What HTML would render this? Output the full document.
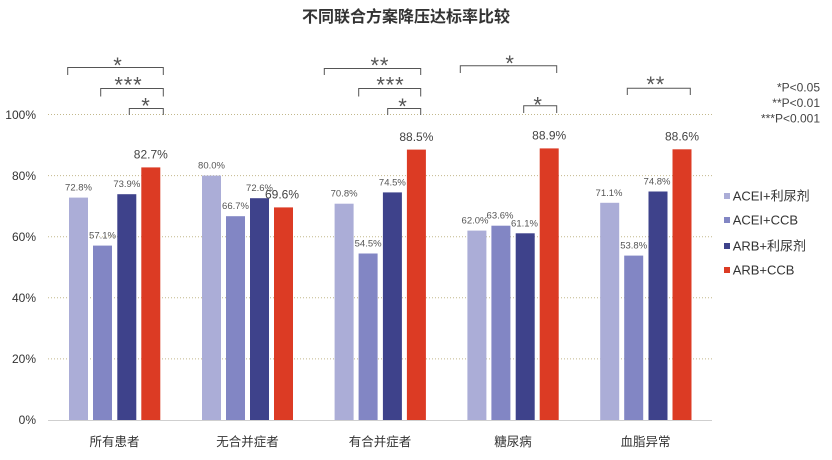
<!DOCTYPE html>
<html><head><meta charset="utf-8"><style>
html,body{margin:0;padding:0;background:#fff;}
svg{display:block;font-family:"Liberation Sans","Noto Sans CJK SC",sans-serif;}
</style></head><body>
<svg width="832" height="460" viewBox="0 0 832 460" xmlns="http://www.w3.org/2000/svg">
<rect width="832" height="460" fill="#fff"/>
<text x="406" y="22" text-anchor="middle" font-size="16" font-weight="bold" fill="#333" font-family="'Noto Sans CJK SC',sans-serif">不同联合方案降压达标率比较</text>
<g stroke="#c2b88c" stroke-width="1" stroke-dasharray="1,2">
<line x1="48" y1="114.5" x2="712" y2="114.5"/>
<line x1="48" y1="175.6" x2="712" y2="175.6"/>
<line x1="48" y1="236.7" x2="712" y2="236.7"/>
<line x1="48" y1="297.8" x2="712" y2="297.8"/>
<line x1="48" y1="358.9" x2="712" y2="358.9"/>
</g>
<line x1="48" y1="420.5" x2="712" y2="420.5" stroke="#cfcfcf" stroke-width="1"/>
<g font-size="12" fill="#333" text-anchor="end">
<text x="36" y="119">100%</text>
<text x="36" y="180">80%</text>
<text x="36" y="241">60%</text>
<text x="36" y="302">40%</text>
<text x="36" y="363">20%</text>
<text x="36" y="424">0%</text>
</g>
<!-- bars -->
<g>
<rect x="69" y="197.6" width="19" height="222.4" fill="#abadd7"/>
<rect x="93" y="245.6" width="19" height="174.4" fill="#8286c4"/>
<rect x="117.3" y="194.2" width="19" height="225.8" fill="#3e428b"/>
<rect x="141.3" y="167.4" width="19" height="252.6" fill="#dc3b24"/>
<rect x="202" y="175.6" width="19" height="244.4" fill="#abadd7"/>
<rect x="226" y="216.2" width="19" height="203.8" fill="#8286c4"/>
<rect x="250" y="198.2" width="19" height="221.8" fill="#3e428b"/>
<rect x="274" y="207.4" width="19" height="212.6" fill="#dc3b24"/>
<rect x="334.6" y="203.7" width="19" height="216.3" fill="#abadd7"/>
<rect x="358.6" y="253.5" width="19" height="166.5" fill="#8286c4"/>
<rect x="382.9" y="192.4" width="19" height="227.6" fill="#3e428b"/>
<rect x="406.9" y="149.6" width="19" height="270.4" fill="#dc3b24"/>
<rect x="467.4" y="230.6" width="19" height="189.4" fill="#abadd7"/>
<rect x="491.4" y="225.7" width="19" height="194.3" fill="#8286c4"/>
<rect x="515.7" y="233.3" width="19" height="186.7" fill="#3e428b"/>
<rect x="539.7" y="148.4" width="19" height="271.6" fill="#dc3b24"/>
<rect x="600.2" y="202.8" width="19" height="217.2" fill="#abadd7"/>
<rect x="624.2" y="255.6" width="19" height="164.4" fill="#8286c4"/>
<rect x="648.5" y="191.5" width="19" height="228.5" fill="#3e428b"/>
<rect x="672.5" y="149.3" width="19" height="270.7" fill="#dc3b24"/>
</g>
<!-- value labels -->
<g font-size="9.5" fill="#555" text-anchor="middle">
<text x="78.5" y="190.6">72.8%</text>
<text x="102.5" y="238.6">57.1%</text>
<text x="126.8" y="187.2">73.9%</text>
<text x="211.5" y="168.6">80.0%</text>
<text x="235.5" y="209.2">66.7%</text>
<text x="259.5" y="191.2">72.6%</text>
<text x="344.1" y="196.7">70.8%</text>
<text x="368.1" y="246.5">54.5%</text>
<text x="392.4" y="185.4">74.5%</text>
<text x="475" y="223.6">62.0%</text>
<text x="500" y="218.7">63.6%</text>
<text x="524.5" y="226.3">61.1%</text>
<text x="609" y="195.8">71.1%</text>
<text x="633.7" y="248.6">53.8%</text>
<text x="657" y="184.5">74.8%</text>
</g>
<g font-size="12" fill="#444" text-anchor="middle">
<text x="150.8" y="158.7">82.7%</text>
<text x="282" y="198.7">69.6%</text>
<text x="416.4" y="140.9">88.5%</text>
<text x="549.2" y="139.7">88.9%</text>
<text x="682" y="140.6">88.6%</text>
</g>
<!-- x labels -->
<g font-size="12.5" fill="#333" text-anchor="middle" font-family="'Noto Sans CJK SC',sans-serif">
<text x="114.5" y="446">所有患者</text>
<text x="247.5" y="446">无合并症者</text>
<text x="380" y="446">有合并症者</text>
<text x="513" y="446">糖尿病</text>
<text x="645.5" y="446">血脂异常</text>
</g>
<!-- brackets -->
<g stroke="#555" stroke-width="1" fill="none">
<path d="M67.7 75 V67.5 H163.3 V75"/>
<path d="M100.7 96.5 V88.5 H163.3 V96.5"/>
<path d="M129.3 115 V108.5 H163.3 V115"/>
<path d="M324.3 75 V68.5 H420.7 V75"/>
<path d="M358.7 96.5 V88.5 H420.7 V96.5"/>
<path d="M387.7 115 V108.5 H420.7 V115"/>
<path d="M460.3 73 V65.7 H556.7 V73"/>
<path d="M523.7 113 V105.7 H556.7 V113"/>
<path d="M627.3 95 V88.3 H690.3 V95"/>
</g>
<g font-size="22" fill="#555" text-anchor="middle" letter-spacing="0.8">
<text x="117.9" y="73.2">*</text>
<text x="128.4" y="92.5">***</text>
<text x="145.9" y="113.5">*</text>
<text x="379.9" y="73.2">**</text>
<text x="390.4" y="92.5">***</text>
<text x="402.9" y="114.2">*</text>
<text x="510.1" y="70.8">*</text>
<text x="538.1" y="112.5">*</text>
<text x="655.7" y="91.8">**</text>
</g>
<!-- p legend -->
<g font-size="12" fill="#444" text-anchor="end">
<text x="820" y="91.6">*P&lt;0.05</text>
<text x="820" y="107">**P&lt;0.01</text>
<text x="820" y="122.6">***P&lt;0.001</text>
</g>
<!-- legend -->
<g font-size="13" fill="#333">
<rect x="724" y="193" width="6" height="6" fill="#abadd7"/>
<text x="732.7" y="200.7">ACEI+利尿剂</text>
<rect x="724" y="217" width="6" height="6" fill="#8286c4"/>
<text x="732.7" y="224.7">ACEI+CCB</text>
<rect x="724" y="243" width="6" height="6" fill="#3e428b"/>
<text x="732.7" y="250.7">ARB+利尿剂</text>
<rect x="724" y="267" width="6" height="6" fill="#dc3b24"/>
<text x="732.7" y="274.7">ARB+CCB</text>
</g>
</svg>
</body></html>
